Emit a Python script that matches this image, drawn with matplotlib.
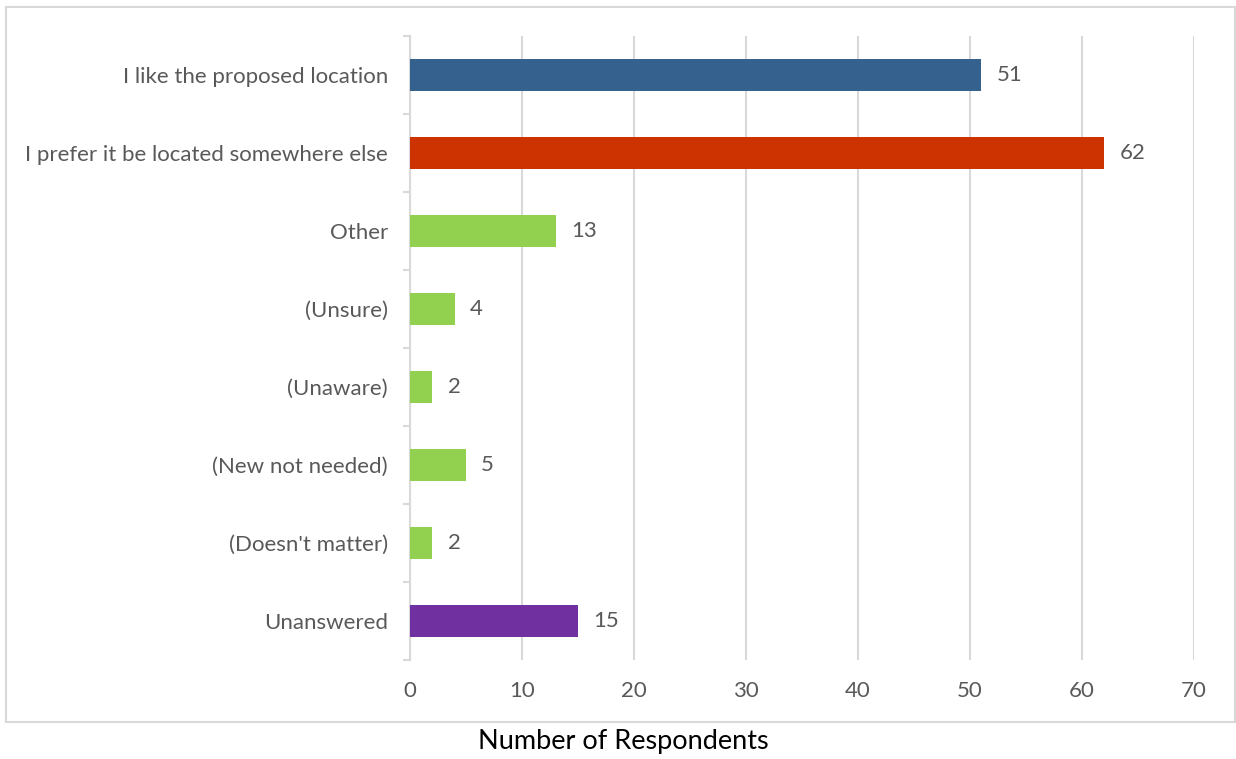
import matplotlib.pyplot as plt
from matplotlib.patches import Rectangle
from matplotlib.ticker import FixedLocator

# Chart data
categories = [
    "I like the proposed location",
    "I prefer it be located somewhere else",
    "Other",
    "(Unsure)",
    "(Unaware)",
    "(New not needed)",
    "(Doesn't matter)",
    "Unanswered",
]
counts = [51, 62, 13, 4, 2, 5, 2, 15]
bar_colors = ["#35618f", "#cc3300", "#92d050", "#92d050",
              "#92d050", "#92d050", "#92d050", "#7030a0"]
x_ticks = [0, 10, 20, 30, 40, 50, 60, 70]

plt.rcParams["font.family"] = ["Lato", "DejaVu Sans"]
text_gray = "#595959"
grid_gray = "#d9d9d9"

fig = plt.figure(figsize=(12.36, 7.59), dpi=100)
ax = fig.add_axes([0.3317, 0.1304, 0.6343, 0.8221])

ypos = list(range(len(categories)))
ax.barh(ypos, counts, height=0.4, color=bar_colors, zorder=3)
for y, v in zip(ypos, counts):
    ax.annotate(str(v), (v, y), xytext=(11, 0), textcoords="offset points",
                va="center", ha="left", fontsize=16, color=text_gray)

ax.set_xlim(0, 70)
ax.set_ylim(len(categories) - 0.5, -0.5)
ax.set_xticks(x_ticks)
ax.set_yticks(ypos)
ax.set_yticklabels(categories)
ax.yaxis.set_minor_locator(FixedLocator([i - 0.5 for i in range(len(categories) + 1)]))

ax.grid(axis="x", color=grid_gray, linewidth=1.5, zorder=0)
for side in ["top", "right", "bottom"]:
    ax.spines[side].set_visible(False)
ax.spines["left"].set_color(grid_gray)
ax.spines["left"].set_linewidth(1.5)

ax.tick_params(axis="x", length=0, pad=15, labelsize=16, labelcolor=text_gray)
ax.tick_params(axis="y", which="major", length=0, pad=16, labelsize=16,
               labelcolor=text_gray)
ax.tick_params(axis="y", which="minor", length=5, width=1.5, color=grid_gray)

# outer chart frame
fig.patches.append(Rectangle((6 / 1236, 1 - 722 / 759), 1229 / 1236, 715 / 759,
                             transform=fig.transFigure, fill=False,
                             edgecolor=grid_gray, linewidth=1.5))

fig.text(623 / 1236, 1 - 741 / 759, "Number of Respondents", ha="center",
         va="center", fontsize=19.5, color="black")

fig.savefig("out.png", dpi=100)
